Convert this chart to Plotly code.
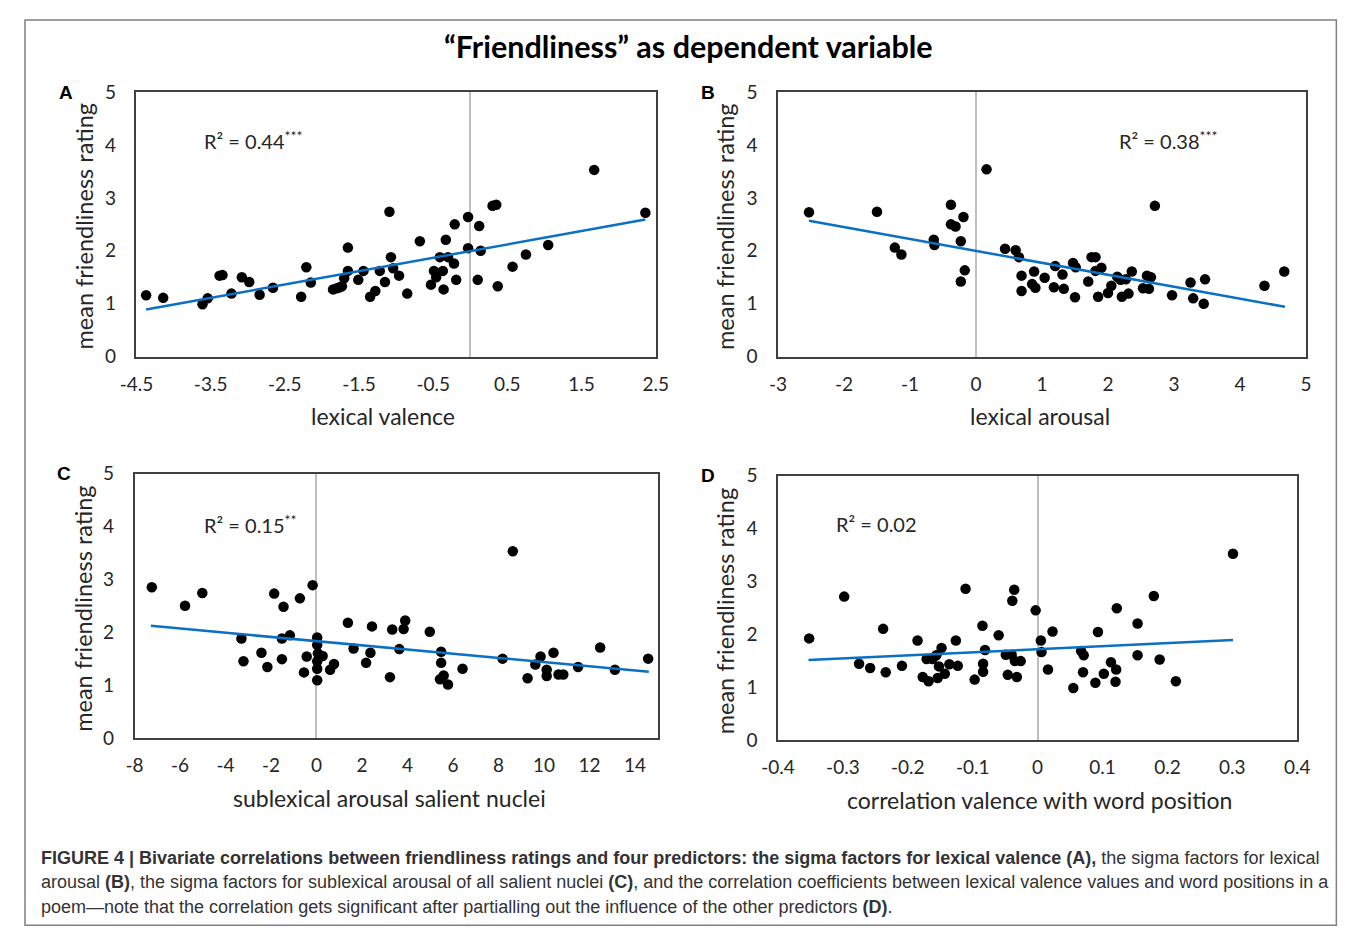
import plotly.graph_objects as go

# ---------------- data ----------------
A_x = [-4.37, -4.14, -3.61, -3.54, -3.38, -3.34, -3.22, -3.08, -2.98, -2.84, -2.66, -2.28, -2.21, -2.15,
       -1.85, -1.80, -1.76, -1.73, -1.70, -1.65, -1.65, -1.51, -1.44, -1.35, -1.28, -1.22, -1.15, -1.09,
       -1.07, -1.04, -0.96, -0.85, -0.68, -0.53, -0.49, -0.46, -0.41, -0.37, -0.36, -0.33, -0.30, -0.22,
       -0.21, -0.19, -0.03, -0.03, 0.10, 0.12, 0.14, 0.30, 0.35, 0.37, 0.57, 0.75, 1.05, 1.67, 2.36]
A_y = [1.16, 1.11, 0.99, 1.10, 1.53, 1.54, 1.19, 1.50, 1.41, 1.17, 1.30, 1.13, 1.69, 1.40,
       1.27, 1.29, 1.31, 1.33, 1.48, 2.06, 1.62, 1.45, 1.62, 1.13, 1.24, 1.62, 1.41, 2.74,
       1.88, 1.67, 1.53, 1.19, 2.18, 1.36, 1.62, 1.50, 1.88, 1.62, 1.27, 2.21, 1.88, 1.76,
       2.50, 1.45, 2.64, 2.05, 1.45, 2.47, 2.00, 2.85, 2.87, 1.33, 1.70, 1.93, 2.11, 3.53, 2.72]
A_trend_x = [-4.37, 2.36]
A_trend_y = [0.89, 2.59]

B_x = [-2.53, -1.50, -1.23, -1.13, -0.64, -0.63, -0.38, -0.38, -0.31, -0.19, -0.23, -0.17, -0.23,
       0.16, 0.44, 0.60, 0.65, 0.69, 0.88, 0.69, 0.85, 0.90, 1.04, 1.18, 1.20, 1.31, 1.33, 1.47,
       1.50, 1.51, 1.70, 1.75, 1.81, 1.81, 1.90, 1.85, 2.00, 2.05, 2.14, 2.19, 2.27, 2.21, 2.31,
       2.36, 2.53, 2.59, 2.65, 2.62, 2.71, 2.97, 3.25, 3.29, 3.47, 3.45, 4.37, 4.67]
B_y = [2.73, 2.74, 2.06, 1.93, 2.21, 2.11, 2.87, 2.50, 2.46, 2.64, 2.18, 1.63, 1.42,
       3.54, 2.04, 2.01, 1.88, 1.53, 1.61, 1.24, 1.37, 1.30, 1.49, 1.31, 1.71, 1.55, 1.28, 1.77,
       1.12, 1.69, 1.42, 1.88, 1.88, 1.62, 1.68, 1.13, 1.20, 1.34, 1.51, 1.45, 1.46, 1.13, 1.19,
       1.61, 1.29, 1.53, 1.50, 1.28, 2.85, 1.16, 1.40, 1.10, 1.46, 1.00, 1.34, 1.61]
B_trend_x = [-2.53, 4.68]
B_trend_y = [2.57, 0.94]

C_x = [-7.24, -5.78, -5.02, -3.30, -3.21, -2.42, -2.16, -1.86, -1.45, -1.52, -1.52, -1.17, -0.73,
       -0.43, -0.55, -0.17, 0.03, 0.03, 0.06, 0.27, 0.03, 0.03, 0.03, 0.60, 0.77, 1.38, 1.63,
       2.44, 2.37, 2.18, 3.33, 3.23, 3.64, 3.83, 3.90, 4.98, 5.48, 5.48, 5.59, 5.43, 5.78, 6.42,
       8.18, 8.63, 9.28, 9.62, 9.85, 10.12, 10.12, 10.42, 10.64, 10.85, 11.50, 12.47, 13.12, 14.58]
C_y = [2.85, 2.50, 2.74, 1.88, 1.45, 1.61, 1.34, 2.73, 2.48, 1.88, 1.49, 1.94, 2.64,
       1.54, 1.24, 2.89, 1.90, 1.76, 1.60, 1.55, 1.45, 1.31, 1.09, 1.29, 1.40, 2.18, 1.69,
       2.11, 1.61, 1.42, 2.05, 1.15, 1.68, 2.06, 2.22, 2.01, 1.63, 1.42, 1.18, 1.11, 1.01, 1.31,
       1.50, 3.53, 1.13, 1.39, 1.54, 1.29, 1.17, 1.61, 1.20, 1.20, 1.34, 1.71, 1.29, 1.50]
C_trend_x = [-7.28, 14.61]
C_trend_y = [2.12, 1.25]

D_x = [-0.352, -0.298, -0.275, -0.258, -0.234, -0.238, -0.209, -0.185, -0.177, -0.168, -0.171, -0.162,
       -0.156, -0.152, -0.148, -0.154, -0.143, -0.136, -0.126, -0.123, -0.111, -0.097, -0.085, -0.081,
       -0.084, -0.084, -0.060, -0.049, -0.040, -0.046, -0.036, -0.039, -0.035, -0.026, -0.032, -0.003,
       0.005, 0.006, 0.016, 0.023, 0.055, 0.067, 0.071, 0.070, 0.089, 0.093, 0.102, 0.113, 0.121,
       0.120, 0.122, 0.154, 0.154, 0.179, 0.188, 0.213, 0.301]
D_y = [1.92, 2.71, 1.44, 1.36, 1.28, 2.10, 1.40, 1.88, 1.19, 1.11, 1.53, 1.53,
       1.60, 1.39, 1.74, 1.17, 1.25, 1.43, 1.88, 1.40, 2.86, 1.14, 2.16, 1.70,
       1.44, 1.29, 1.98, 1.61, 1.61, 1.23, 2.84, 2.63, 1.49, 1.49, 1.19, 2.45,
       1.88, 1.66, 1.33, 2.05, 0.98, 1.68, 1.60, 1.28, 1.08, 2.04, 1.25, 1.47, 1.33,
       1.10, 2.49, 2.20, 1.60, 2.72, 1.52, 1.11, 3.52]
D_trend_x = [-0.353, 0.301]
D_trend_y = [1.51, 1.89]

A_ticks = [-4.5, -3.5, -2.5, -1.5, -0.5, 0.5, 1.5, 2.5]
A_ticktext = ["-4.5", "-3.5", "-2.5", "-1.5", "-0.5", "0.5", "1.5", "2.5"]
B_ticks = [-3, -2, -1, 0, 1, 2, 3, 4, 5]
B_ticktext = ["-3", "-2", "-1", "0", "1", "2", "3", "4", "5"]
C_ticks = [-8, -6, -4, -2, 0, 2, 4, 6, 8, 10, 12, 14]
C_ticktext = ["-8", "-6", "-4", "-2", "0", "2", "4", "6", "8", "10", "12", "14"]
D_ticks = [-0.4, -0.3, -0.2, -0.1, 0, 0.1, 0.2, 0.3, 0.4]
D_ticktext = ["-0.4", "-0.3", "-0.2", "-0.1", "0", "0.1", "0.2", "0.3", "0.4"]
Y_ticks = [0, 1, 2, 3, 4, 5]

x_titles = ["lexical valence", "lexical arousal", "sublexical arousal salient nuclei",
            "correlation valence with word position"]
y_title = "mean friendliness rating"
r2_texts = ["R² = 0.44<sup>***</sup>", "R² = 0.38<sup>***</sup>", "R² = 0.15<sup>**</sup>", "R² = 0.02"]

# ---------------- layout ----------------
W, H = 1357, 937
OFF = 8  # the page body margin shifts the figure by 8 px; positions below are screen pixels
FONT = "Lato, Open Sans, sans-serif"
def px(x):
    return (x - OFF) / W
def py(y):
    return 1 - (y - OFF) / H

panels = [
    ("A", A_x, A_y, A_trend_x, A_trend_y, A_ticks, A_ticktext, [-4.5, 2.5], (122, 653, 82, 353)),
    ("B", B_x, B_y, B_trend_x, B_trend_y, B_ticks, B_ticktext, [-3, 5], (778, 1318, 82, 353)),
    ("C", C_x, C_y, C_trend_x, C_trend_y, C_ticks, C_ticktext, [-8, 15], (120, 655, 473, 744)),
    ("D", D_x, D_y, D_trend_x, D_trend_y, D_ticks, D_ticktext, [-0.4, 0.4], (778, 1309, 475, 746)),
]

fig = go.Figure()
layout = dict(
    width=W, height=H, margin=dict(l=0, r=0, t=0, b=0),
    paper_bgcolor="white", plot_bgcolor="white", showlegend=False,
    font=dict(family=FONT, color="#262626"),
)
annotations = []
for i, (name, xs, ys, tx, ty, ticks, ticktext, xr, box) in enumerate(panels):
    n = "" if i == 0 else str(i + 1)
    l, r, t, b = box
    fig.add_trace(go.Scatter(x=xs, y=ys, mode="markers", xaxis="x" + n, yaxis="y" + n,
                             marker=dict(color="black", size=10.5, line=dict(width=0))))
    fig.add_trace(go.Scatter(x=tx, y=ty, mode="lines", xaxis="x" + n, yaxis="y" + n,
                             line=dict(color="#0A70C4", width=2.5)))
    layout["xaxis" + n] = dict(
        domain=[px(l), px(r)], range=xr, anchor="y" + n,
        tickmode="array", tickvals=ticks, ticktext=ticktext,
        showline=True, mirror=True, linecolor="#404040", linewidth=1.5,
        showgrid=False, zeroline=True, zerolinecolor="#BFBFBF", zerolinewidth=1.5,
        ticks="outside", ticklen=10, tickcolor="rgba(0,0,0,0)",
        tickfont=dict(size=19, family=FONT, color="#262626"),
    )
    layout["yaxis" + n] = dict(
        domain=[py(b), py(t)], range=[0, 5], anchor="x" + n,
        tickmode="array", tickvals=Y_ticks,
        showline=True, mirror=True, linecolor="#404040", linewidth=1.5,
        showgrid=False, zeroline=False,
        ticks="outside", ticklen=15, tickcolor="rgba(0,0,0,0)",
        tickfont=dict(size=19, family=FONT, color="#262626"),
    )
    annotations.append(dict(text="<b>%s</b>" % name, x=px(l - 72), y=py(t), xref="paper", yref="paper",
                            showarrow=False, xanchor="center", yanchor="middle",
                            font=dict(size=19, family="Liberation Sans, Arial", color="black")))

xt_pos = [(374, 414), (1046, 414), (381, 806), (1045, 808)]
yt_pos = [(68, 220), (724, 220), (68, 612), (724, 614)]
for i in range(4):
    annotations.append(dict(text=x_titles[i], x=px(xt_pos[i][0]), y=py(xt_pos[i][1]), xref="paper", yref="paper",
                            showarrow=False, xanchor="center", yanchor="middle",
                            font=dict(size=23, family=FONT, color="#262626")))
    annotations.append(dict(text=y_title, x=px(yt_pos[i][0]), y=py(yt_pos[i][1]), xref="paper", yref="paper",
                            showarrow=False, xanchor="center", yanchor="middle", textangle=-90,
                            font=dict(size=23.5, family=FONT, color="#262626")))

r2_pos = [(189, 131), (1125, 131), (189, 525), (835, 525)]
for i in range(4):
    annotations.append(dict(text=r2_texts[i], x=px(r2_pos[i][0]), y=py(r2_pos[i][1]), xref="paper", yref="paper",
                            showarrow=False, xanchor="left", yanchor="middle",
                            font=dict(size=20, family=FONT, color="#262626")))

annotations.append(dict(text="<b>“Friendliness” as dependent variable</b>", x=px(686), y=py(35),
                        xref="paper", yref="paper", showarrow=False, xanchor="center", yanchor="middle",
                        font=dict(size=30.5, family=FONT, color="black")))

CAP = "Liberation Sans Narrow, Arial Narrow, Liberation Sans, Arial"
cap_lines = [
    "<b>FIGURE 4 | Bivariate correlations between friendliness ratings and four predictors: the sigma factors for lexical valence (A),</b> the sigma factors for lexical",
    "arousal <b>(B)</b>, the sigma factors for sublexical arousal of all salient nuclei <b>(C)</b>, and the correlation coefficients between lexical valence values and word positions in a",
    "poem—note that the correlation gets significant after partialling out the influence of the other predictors <b>(D)</b>.",
]
for k, line in enumerate(cap_lines):
    annotations.append(dict(text=line, x=px(22), y=py(867 + 25 * k), xref="paper", yref="paper",
                            showarrow=False, xanchor="left", yanchor="middle",
                            font=dict(size=18, family=CAP, color="#333333")))

layout["annotations"] = annotations
layout["shapes"] = [dict(type="rect", xref="paper", yref="paper", x0=px(8), x1=px(1349), y0=py(936), y1=py(8),
                         line=dict(color="#808080", width=1.5), fillcolor="rgba(0,0,0,0)", layer="below")]
fig.update_layout(**layout)
fig.write_html("out.html")
